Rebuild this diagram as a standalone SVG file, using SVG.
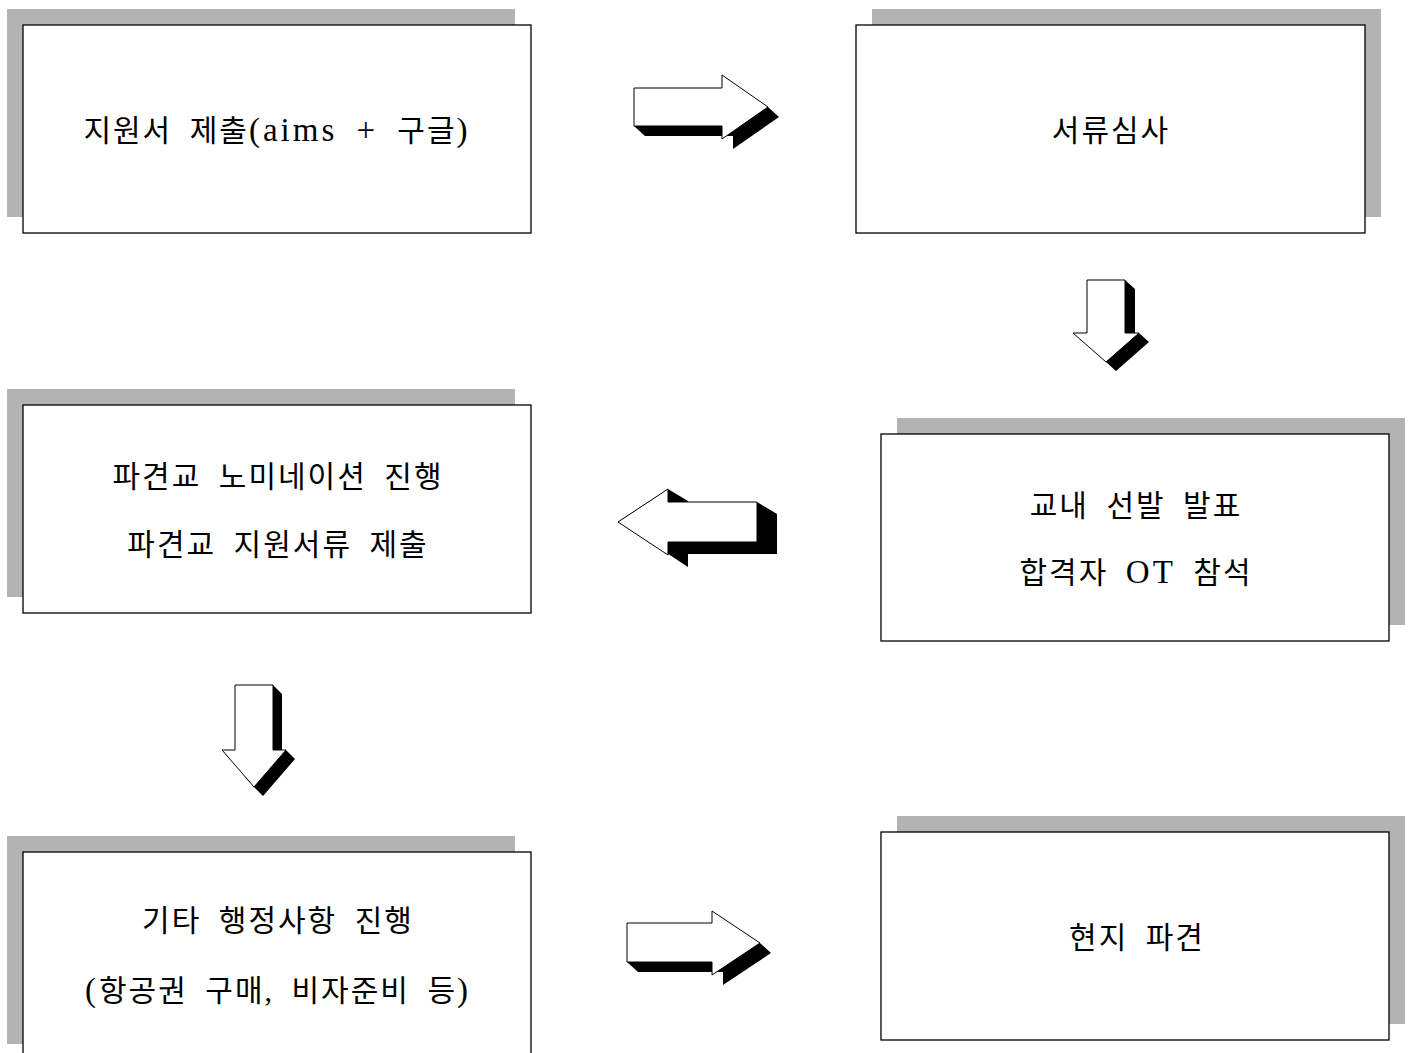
<svg xmlns="http://www.w3.org/2000/svg" width="1413" height="1053" viewBox="0 0 1413 1053">
<style>
.sh{fill:#b3b3b3}
.bx{fill:#fff;stroke:#000;stroke-width:1.3}
.t{font-family:"Liberation Serif","Noto Sans CJK KR",serif;font-size:30px;letter-spacing:2px;word-spacing:8px;fill:#000;text-anchor:middle}
.lat{letter-spacing:3px;font-size:33px}
.ab{fill:#000}
.aw{fill:#fff;stroke:#000;stroke-width:1}
</style>
<rect width="1413" height="1053" fill="#fff"/>
<g id="node1">
<rect class="sh" x="7" y="9" width="508" height="208"/>
<rect class="bx" x="23" y="25" width="508" height="208"/>
<text class="t" x="277" y="141">지원서 제출<tspan class="lat">(aims + </tspan>구글<tspan class="lat">)</tspan></text>
</g>
<g id="node2">
<rect class="sh" x="872" y="9" width="509" height="208"/>
<rect class="bx" x="856" y="25" width="509" height="208"/>
<text class="t" x="1111" y="141">서류심사</text>
</g>
<g id="node3">
<rect class="sh" x="7" y="389" width="508" height="208"/>
<rect class="bx" x="23" y="405" width="508" height="208"/>
<text class="t" x="278" y="487">파견교 노미네이션 진행</text>
<text class="t" x="278" y="555">파견교 지원서류 제출</text>
</g>
<g id="node4">
<rect class="sh" x="897" y="418" width="508" height="207"/>
<rect class="bx" x="881" y="434" width="508" height="207"/>
<text class="t" x="1136" y="516">교내 선발 발표</text>
<text class="t" x="1136" y="583">합격자 <tspan class="lat">OT</tspan> 참석</text>
</g>
<g id="node5">
<rect class="sh" x="7" y="836" width="508" height="208"/>
<rect class="bx" x="23" y="852" width="508" height="230"/>
<text class="t" x="278" y="931">기타 행정사항 진행</text>
<text class="t" x="278" y="1001"><tspan class="lat">(</tspan>항공권 구매, 비자준비 등<tspan class="lat">)</tspan></text>
</g>
<g id="node6">
<rect class="sh" x="897" y="816" width="508" height="208"/>
<rect class="bx" x="881" y="832" width="508" height="208"/>
<text class="t" x="1137" y="948">현지 파견</text>
</g>
<g id="connectors">
<g id="arrow1">
<polygon class="ab" points="634,126 645,136 733,136 733,149 779,117 768,107 700,110"/>
<polygon class="aw" points="634,88 722,88 722,75 768,107 722,139 722,126 634,126"/>
</g>
<g id="arrow2">
<polygon class="ab" points="1125,280 1135,289 1135,333 1139,333 1149,342 1116,371 1106,362 1110,300"/>
<polygon class="aw" points="1087,280 1125,280 1125,333 1139,333 1106,362 1073,333 1087,333"/>
</g>
<g id="arrow3">
<polygon class="ab" points="618,522 668,489 688,501 688,502 757,502 777,514 777,554 688,554 688,567 638,534"/>
<polygon class="aw" points="618,522 668,489 668,502 757,502 757,542 668,542 668,555"/>
</g>
<g id="arrow4">
<polygon class="ab" points="273,685 282,694 282,750 286,750 295,759 263,796 254,787 254,700"/>
<polygon class="aw" points="235,685 273,685 273,750 286,750 254,787 222,750 235,750"/>
</g>
<g id="arrow5">
<polygon class="ab" points="627,962 638,972 723,972 723,985 771,953 760,943 700,945"/>
<polygon class="aw" points="627,923 712,923 712,911 760,943 712,975 712,962 627,962"/>
</g>
</g>
</svg>
